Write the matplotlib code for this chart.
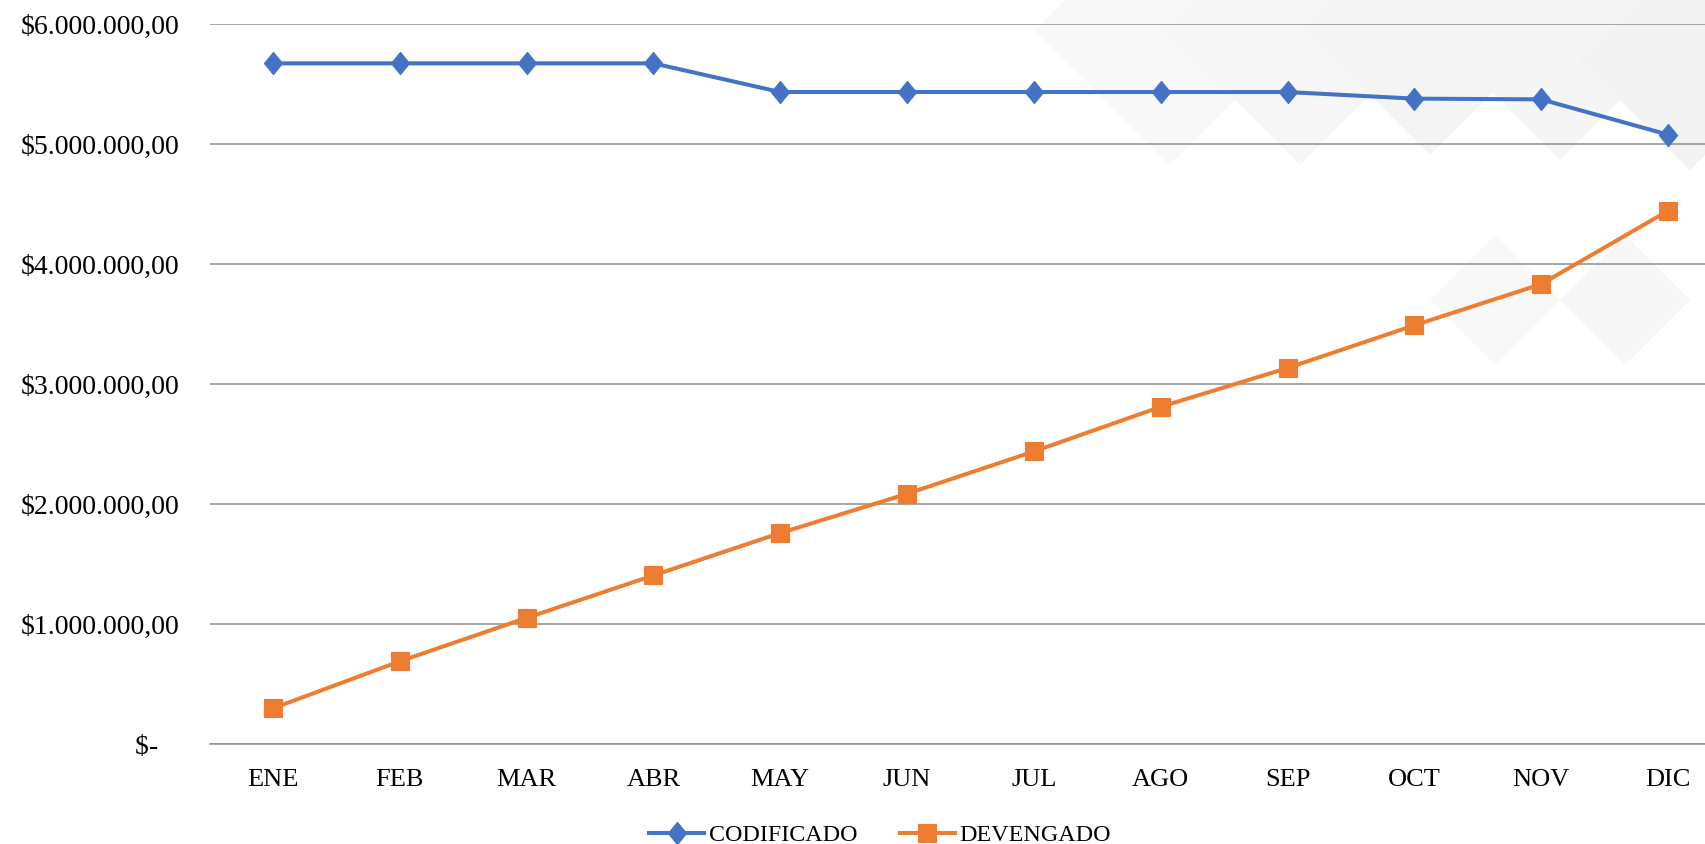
import matplotlib
matplotlib.use("Agg")
import matplotlib.pyplot as plt
from matplotlib.patches import Polygon

months = ["ENE", "FEB", "MAR", "ABR", "MAY", "JUN", "JUL", "AGO", "SEP", "OCT", "NOV", "DIC"]
codificado = [5672000, 5672000, 5672000, 5672000, 5433000, 5433000, 5433000, 5433000, 5433000, 5378000, 5372000, 5078000]
devengado = [298000, 689000, 1051000, 1405000, 1758000, 2085000, 2438000, 2810000, 3133000, 3489000, 3832000, 4443000]
yticks = [0, 1000000, 2000000, 3000000, 4000000, 5000000, 6000000]

def fmt(v):
    if v == 0:
        return "$-   "
    s = f"{v:,.2f}"
    s = s.replace(",", "X").replace(".", ",").replace("X", ".")
    return "$" + s

plt.rcParams['font.family'] = ['Liberation Serif', 'DejaVu Serif']

W, H = 1706, 844
fig = plt.figure(figsize=(W / 100, H / 100), dpi=100)

# faint diamond decoration (figure pixel coords, top-right)
def diamond(cx, cy, r, color):
    pts = [(cx, cy - r), (cx + r, cy), (cx, cy + r), (cx - r, cy)]
    pts = [(x / W, 1 - y / H) for x, y in pts]
    fig.patches.append(Polygon(pts, closed=True, transform=fig.transFigure,
                               facecolor=color, edgecolor='none', zorder=-5))

diamond(1170, 30, 135, '#f8f8f9')
diamond(1300, 30, 135, '#f6f6f7')
diamond(1430, 30, 125, '#f4f4f4')
diamond(1560, 40, 120, '#f5f5f5')
diamond(1690, 60, 110, '#f3f3f3')
diamond(1495, 300, 65, '#f8f8f9')
diamond(1625, 300, 65, '#f7f7f8')

ax = fig.add_axes([209.6 / W, 100 / H, (W - 209.6) / W, 720 / H])
ax.patch.set_alpha(0)
x = list(range(len(months)))

diamond_marker = [(0, 1), (0.82, 0), (0, -1), (-0.82, 0), (0, 1)]
ax.plot(x, codificado, color='#4472C4', lw=2.9, marker=diamond_marker, markersize=16,
        mew=0.8, label='CODIFICADO', zorder=3)
ax.plot(x, devengado, color='#ED7D31', lw=2.9, marker='s', markersize=12.5,
        mew=0.8, label='DEVENGADO', zorder=3)

ax.set_xlim(-0.5, 11.3)
ax.set_ylim(0, 6000000)
ax.set_xticks(x)
ax.set_xticklabels(months, fontsize=19)
ax.set_yticks(yticks)
ax.set_yticklabels([fmt(v) for v in yticks], fontsize=20)
ax.tick_params(axis='both', length=0, colors='#000000')
ax.tick_params(axis='y', pad=22)
ax.tick_params(axis='x', pad=18)
ax.grid(axis='y', color='#909090', lw=1.1)
ax.set_axisbelow(True)
for s in ['top', 'right', 'left']:
    ax.spines[s].set_visible(False)
ax.spines['bottom'].set_color('#909090')
ax.spines['bottom'].set_linewidth(1.1)

leg = fig.legend(loc='center', bbox_to_anchor=(880 / W, 1 - 835 / H), ncol=2,
                 frameon=False, fontsize=17.3, handlelength=2.3, columnspacing=1.75,
                 handletextpad=0.2)

fig.savefig("out.png", dpi=100)
